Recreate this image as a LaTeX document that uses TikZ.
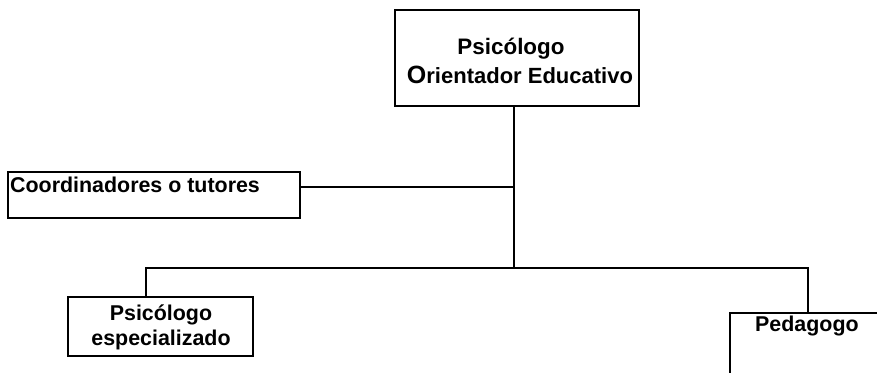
\documentclass[tikz,border=0pt]{standalone}
\usepackage{fontspec}
\setmainfont{Liberation Sans}
\begin{document}
\begin{tikzpicture}[x=1pt,y=-1pt,
  box/.style={draw,line width=1.8pt,inner sep=0pt},
  lbl/.style={font=\fontsize{21.4}{23}\selectfont\bfseries,inner sep=0pt},
  wire/.style={line width=2pt}]
\useasboundingbox (0,0) rectangle (877,373);
% boxes
\draw[box] (395,10) rectangle (639,106);
\coordinate (topb) at (514,106);
\draw[box] (8,172) rectangle (300,218);
\coordinate (coordr) at (300,187);
\draw[box] (68,297) rectangle (253,356);
\coordinate (psit) at (146,297);
\draw[box] (877,313) -- (730,313) -- (730,373);
\coordinate (pedt) at (808,313);
% texts
\node[lbl,anchor=base,font=\fontsize{22.4}{24}\selectfont\bfseries] (t1) at (511,54) {Psicólogo};
\node[lbl,anchor=base,font=\fontsize{22}{24}\selectfont\bfseries] (t2) at (520,83) {{\fontsize{25}{28}\selectfont O}rientador Educativo};
\node[lbl,anchor=base west] (t3) at (10,192) {Coordinadores o tutores};
\node[lbl,anchor=base] (t4) at (161,320) {Psicólogo};
\node[lbl,anchor=base] (t5) at (161,345) {especializado};
\node[lbl,anchor=base west] (t6) at (755,331) {Pedagogo};
% connectors
\coordinate (j1) at (514,187);
\coordinate (j2) at (514,268);
\coordinate (jl) at (146,268);
\coordinate (jr) at (808,268);
\draw[wire] (topb) -- (j2);
\draw[wire] (coordr) -- (j1);
\draw[wire] (psit) -- (jl) -- (jr) -- (pedt);
\end{tikzpicture}
\end{document}
